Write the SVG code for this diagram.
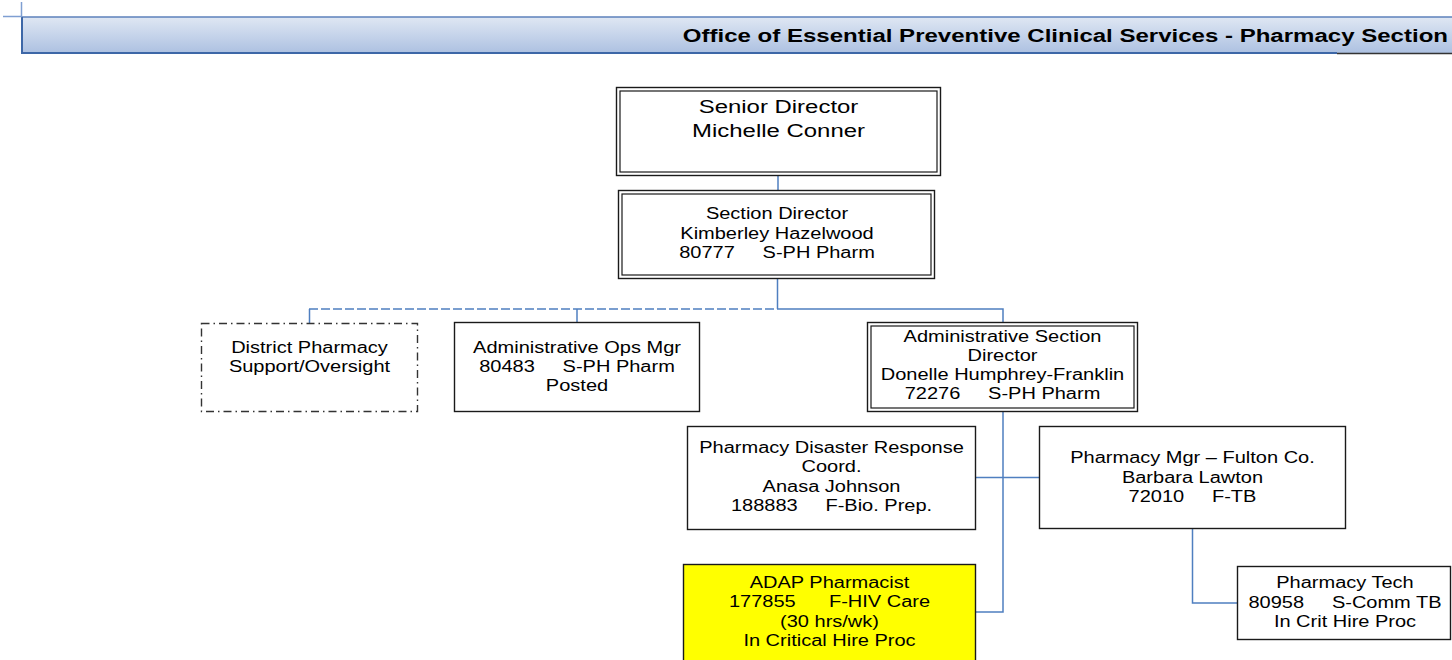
<svg xmlns="http://www.w3.org/2000/svg" width="1452" height="660" viewBox="0 0 1452 660">
<defs>
<linearGradient id="hdr" x1="0" y1="0" x2="0" y2="1">
<stop offset="0" stop-color="#dfe7f3"/>
<stop offset="1" stop-color="#adc1e1"/>
</linearGradient>
<style>
.box{fill:#fff;stroke:#1a1a1a;stroke-width:1.4}
.dbl{fill:none;stroke:#1a1a1a;stroke-width:1.2}
.dd{fill:#fff;stroke:#333;stroke-width:1.4;stroke-dasharray:8 4 1.5 4}
.t{font-family:"Liberation Sans",Arial,sans-serif;font-size:16px;fill:#000;white-space:pre}
.big{font-size:19px}
.hd{font-family:"Liberation Sans",Arial,sans-serif;font-size:19px;font-weight:bold;fill:#000}
.c{fill:none;stroke:#4f7fc0;stroke-width:1.5}
.cd{fill:none;stroke:#4f7fc0;stroke-width:1.5;stroke-dasharray:9 3}
</style>
</defs>
<rect width="1452" height="660" fill="#fff"/>
<g id="header">
<rect x="22" y="17" width="1440" height="36" fill="url(#hdr)"/>
<line x1="22" y1="17" x2="1452" y2="17" stroke="#5d80bb" stroke-width="1.6"/>
<line x1="22" y1="53" x2="1337" y2="53" stroke="#3d67a7" stroke-width="2.2"/>
<line x1="1337" y1="53.5" x2="1452" y2="53.5" stroke="#333" stroke-width="1.4"/>
<line x1="22" y1="17" x2="22" y2="54" stroke="#3d67a7" stroke-width="2"/>
<line x1="21.5" y1="2" x2="21.5" y2="17" stroke="#7f9fd2" stroke-width="1.5"/>
<line x1="3" y1="16.5" x2="22" y2="16.5" stroke="#7f9fd2" stroke-width="1.5"/>
<text class="hd" text-anchor="end" transform="translate(1448,42) scale(1.265,1)">Office of Essential Preventive Clinical Services - Pharmacy Section</text>
</g>
<g id="connectors">
<line class="c" x1="778" y1="176" x2="778" y2="190"/>
<line class="c" x1="777.5" y1="279" x2="777.5" y2="309"/>
<line class="cd" x1="309" y1="309" x2="777" y2="309"/>
<line class="c" x1="309.5" y1="309" x2="309.5" y2="323"/>
<line class="c" x1="577" y1="309" x2="577" y2="322"/>
<polyline class="c" points="777,309 1003,309 1003,322"/>
<polyline class="c" points="1003,412 1003,612 976,612"/>
<line class="c" x1="976" y1="477.5" x2="1039" y2="477.5"/>
<polyline class="c" points="1192.5,529 1192.5,603 1237,603"/>
</g>
<g id="senior-director">
<rect class="box" x="616.5" y="87.5" width="324" height="88"/>
<rect class="dbl" x="620" y="91" width="317" height="81"/>
<text class="t big" text-anchor="middle" transform="translate(778.5,0) scale(1.26,1)"><tspan x="0" y="113">Senior Director</tspan><tspan x="0" y="137">Michelle Conner</tspan></text>
</g>
<g id="section-director">
<rect class="box" x="618.5" y="190.5" width="316" height="88"/>
<rect class="dbl" x="622" y="194" width="309" height="81"/>
<text class="t" text-anchor="middle" transform="translate(777,0) scale(1.25,1)"><tspan x="0" y="219">Section Director</tspan><tspan x="0" y="239">Kimberley Hazelwood</tspan><tspan x="0" y="258">80777     S-PH Pharm</tspan></text>
</g>
<g id="district-pharmacy">
<rect class="dd" x="201.5" y="323.5" width="216" height="88"/>
<text class="t" text-anchor="middle" transform="translate(309.5,0) scale(1.25,1)"><tspan x="0" y="353">District Pharmacy</tspan><tspan x="0" y="372">Support/Oversight</tspan></text>
</g>
<g id="admin-ops-mgr">
<rect class="box" x="454.5" y="322.5" width="245" height="89"/>
<text class="t" text-anchor="middle" transform="translate(577,0) scale(1.25,1)"><tspan x="0" y="353">Administrative Ops Mgr</tspan><tspan x="0" y="372">80483     S-PH Pharm</tspan><tspan x="0" y="391">Posted</tspan></text>
</g>
<g id="admin-section-director">
<rect class="box" x="867.5" y="322.5" width="270" height="89"/>
<rect class="dbl" x="871" y="326" width="263" height="82"/>
<text class="t" text-anchor="middle" transform="translate(1002.5,0) scale(1.25,1)"><tspan x="0" y="342">Administrative Section</tspan><tspan x="0" y="361">Director</tspan><tspan x="0" y="380">Donelle Humphrey-Franklin</tspan><tspan x="0" y="399">72276     S-PH Pharm</tspan></text>
</g>
<g id="disaster-response">
<rect class="box" x="687.5" y="426.5" width="288" height="103"/>
<text class="t" text-anchor="middle" transform="translate(831.5,0) scale(1.25,1)"><tspan x="0" y="453">Pharmacy Disaster Response</tspan><tspan x="0" y="472">Coord.</tspan><tspan x="0" y="492">Anasa Johnson</tspan><tspan x="0" y="511">188883     F-Bio. Prep.</tspan></text>
</g>
<g id="pharmacy-mgr">
<rect class="box" x="1039.5" y="426.5" width="306" height="102"/>
<text class="t" text-anchor="middle" transform="translate(1192.5,0) scale(1.25,1)"><tspan x="0" y="463">Pharmacy Mgr – Fulton Co.</tspan><tspan x="0" y="483">Barbara Lawton</tspan><tspan x="0" y="502">72010     F-TB</tspan></text>
</g>
<g id="pharmacy-tech">
<rect class="box" x="1237.5" y="566.5" width="213" height="73"/>
<text class="t" text-anchor="middle" transform="translate(1345,0) scale(1.25,1)"><tspan x="0" y="588">Pharmacy Tech</tspan><tspan x="0" y="608">80958     S-Comm TB</tspan><tspan x="0" y="627">In Crit Hire Proc</tspan></text>
</g>
<g id="adap-pharmacist">
<rect class="box" x="683.5" y="564.5" width="292" height="110" style="fill:#ffff00"/>
<text class="t" text-anchor="middle" transform="translate(829.5,0) scale(1.25,1)"><tspan x="0" y="588">ADAP Pharmacist</tspan><tspan x="0" y="607">177855      F-HIV Care</tspan><tspan x="0" y="627">(30 hrs/wk)</tspan><tspan x="0" y="646">In Critical Hire Proc</tspan></text>
</g>
</svg>
